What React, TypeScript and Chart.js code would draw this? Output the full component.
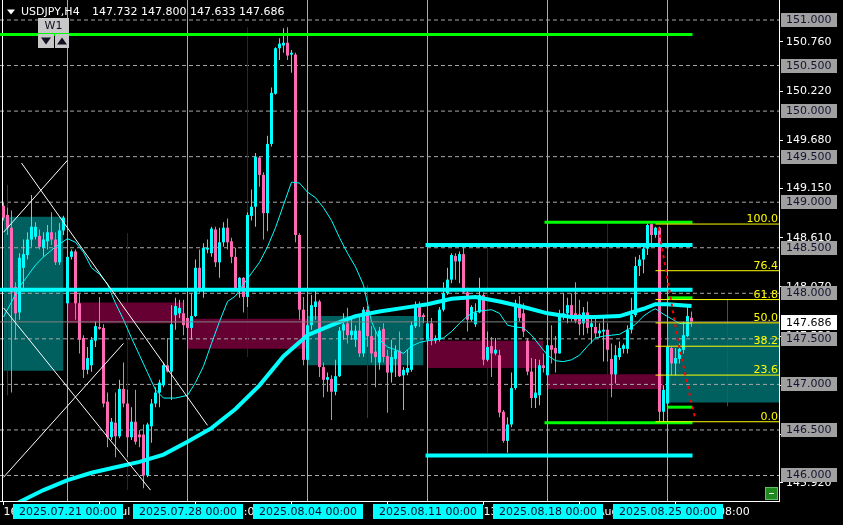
import React, { useEffect, useRef } from 'react';
import { Chart, registerables } from 'chart.js';

Chart.register(...registerables);

// ---------- data ----------
const FIRST_BAR = -16; // first candle, in H4 bars relative to 2025.07.21 00:00
const symbolTitle = 'USDJPY,H4';
const headerValues = '147.732 147.800 147.633 147.686';

const open = [
  148.96,148.86,148.72,148.07,147.79,148.28,148.42,148.59,148.62,148.63,148.50,148.57,148.67,148.59,148.34,148.69,
  147.89,148.40,148.46,147.89,147.51,147.16,147.21,147.48,147.63,147.62,146.81,146.42,146.58,146.43,146.95,146.79,146.42,146.59,146.45,146.45,146.00,146.54,146.79,146.91,146.99,147.21,147.14,147.76,147.78,147.78,
  147.73,147.62,147.75,148.28,148.05,148.48,148.44,148.70,148.34,148.56,148.72,148.57,148.40,148.06,148.17,147.96,148.85,148.95,149.49,149.30,148.88,149.64,150.19,150.69,150.72,150.75,150.62,150.62,148.64,147.82,
  147.27,147.65,147.85,147.91,147.19,147.05,147.06,146.92,147.09,147.59,147.67,147.54,147.49,147.59,147.34,147.82,147.53,147.36,147.24,147.61,147.31,147.13,147.28,147.37,147.10,147.13,147.16,147.64,147.85,147.76,
  147.49,147.67,147.48,147.49,147.82,148.00,148.15,148.41,148.35,148.43,148.01,147.71,147.66,147.79,147.98,147.27,147.42,147.34,147.32,146.70,146.38,146.56,146.96,147.88,147.78,147.48,147.14,146.85,146.88,147.21,
  147.10,147.43,147.40,147.34,147.74,147.78,147.87,147.78,147.77,147.67,147.79,147.63,147.63,147.56,147.58,147.60,147.28,147.11,147.30,147.39,147.39,147.60,147.76,148.30,148.37,148.49,148.76,148.64,148.72,146.70,
  146.79,147.40,147.23,147.28,147.38,147.53,147.732,
];
const high = [
  148.99,148.94,148.91,148.12,148.44,148.59,148.67,149.08,148.78,148.70,148.67,148.75,148.89,148.67,148.77,148.85,
  148.48,148.48,148.48,148.00,147.54,147.41,147.52,147.69,147.96,147.66,146.91,146.63,146.91,147.05,147.24,146.94,146.75,146.94,146.50,146.56,146.58,146.84,146.97,147.05,147.24,147.51,147.87,147.95,147.93,147.93,
  147.78,148.00,148.37,148.48,148.55,148.59,148.73,148.73,148.72,148.78,148.82,148.61,148.50,148.18,148.18,148.89,149.14,149.54,149.50,149.33,149.73,150.26,150.70,150.80,150.91,150.92,150.67,150.64,148.66,147.96,
  147.93,147.98,148.04,147.93,147.24,147.13,147.10,147.27,147.63,147.78,147.84,147.73,147.65,147.74,147.85,147.86,147.64,147.60,147.63,147.67,147.38,147.49,147.43,147.58,147.19,147.38,147.69,147.91,147.91,147.78,
  147.73,147.73,147.54,147.85,148.12,148.28,148.44,148.44,148.46,148.51,148.06,147.87,147.89,148.17,148.01,147.58,147.52,147.51,147.38,146.72,146.64,147.13,147.93,147.97,147.89,147.51,147.29,147.28,147.27,147.34,
  147.49,147.65,147.53,147.82,148.00,147.95,148.00,148.12,147.93,147.85,147.91,147.74,147.74,147.67,147.74,147.67,147.45,147.43,147.47,147.45,147.65,147.95,148.40,148.42,148.52,148.77,148.77,148.73,148.73,146.99,
  147.43,147.41,147.40,147.45,147.69,147.87,147.800,
];
const low = [
  148.80,148.64,146.91,147.49,147.71,148.04,148.37,148.51,148.59,148.48,148.40,148.48,148.53,148.31,148.31,148.64,
  147.82,148.37,147.71,147.34,147.07,147.11,147.14,147.41,147.60,146.75,146.31,146.39,146.20,146.41,146.75,146.20,146.39,146.34,146.31,145.86,145.98,146.36,146.75,146.75,146.97,147.13,146.83,147.60,147.73,147.54,
  147.60,147.49,147.74,148.01,147.95,148.44,148.40,148.29,148.17,148.51,148.48,148.33,148.04,147.95,147.79,147.85,148.80,148.73,149.17,148.59,148.68,149.61,150.18,150.56,150.64,150.56,150.42,148.56,147.71,147.21,
  147.21,147.60,147.71,147.08,146.86,146.92,146.61,146.88,147.08,147.49,147.45,147.49,147.41,147.30,147.30,147.41,147.24,146.97,147.16,147.24,146.69,147.02,147.08,147.08,146.72,147.10,147.14,147.62,147.63,147.67,
  147.43,147.43,147.45,147.47,147.80,147.98,148.11,148.15,148.11,148.00,147.58,147.69,147.63,147.78,147.21,147.25,147.08,147.32,146.64,146.36,146.25,146.53,146.94,147.69,147.52,147.10,146.74,146.74,146.77,147.13,
  147.08,147.23,147.13,147.34,147.71,147.67,147.69,147.67,147.54,147.54,147.56,147.45,147.51,147.51,147.25,147.25,146.86,147.01,147.27,147.34,147.34,147.56,147.74,148.19,148.22,148.42,148.51,148.61,146.59,146.59,
  146.77,147.10,147.10,147.23,147.34,147.52,147.633,
];
const close = [
  148.83,148.72,148.01,147.78,148.39,148.43,148.59,148.73,148.73,148.51,148.59,148.67,148.59,148.34,148.69,148.83,
  148.40,148.46,147.89,147.49,147.16,147.29,147.49,147.64,147.61,146.79,146.42,146.59,146.43,146.95,146.79,146.42,146.59,146.37,146.42,146.00,146.56,146.79,146.91,147.02,147.21,147.14,147.66,147.86,147.84,147.65,
  147.62,147.75,148.28,148.05,148.50,148.50,148.71,148.34,148.56,148.72,148.56,148.40,148.05,148.17,147.96,148.86,148.95,149.50,149.30,148.88,149.64,150.20,150.69,150.74,150.75,150.61,150.64,148.64,147.82,147.27,
  147.65,147.87,147.91,147.19,147.05,147.08,146.92,147.09,147.59,147.66,147.54,147.59,147.59,147.34,147.82,147.53,147.34,147.30,147.59,147.30,147.13,147.30,147.37,147.09,147.16,147.18,147.65,147.85,147.74,147.74,
  147.67,147.48,147.51,147.82,148.00,148.15,148.42,148.35,148.43,148.01,147.71,147.85,147.79,147.98,147.27,147.41,147.34,147.38,146.69,146.38,146.56,146.96,147.89,147.73,147.58,147.14,146.85,146.91,147.21,147.18,
  147.43,147.38,147.34,147.75,147.78,147.87,147.76,147.70,147.66,147.79,147.62,147.67,147.56,147.59,147.60,147.38,147.11,147.32,147.40,147.43,147.60,147.76,148.30,148.37,148.49,148.75,148.64,148.72,146.70,146.94,
  147.41,147.23,147.29,147.39,147.54,147.75,147.686,
];

// moving averages (bar index, price)
const slowMaX = [-16,-12,-6,0,6,12,18,24,30,36,42,48,54,60,66,72,78,84,90,96,102,108,114,120,126,132,138,144,147,150,156];
const slowMaY = [145.60,145.71,145.84,145.95,146.03,146.09,146.15,146.23,146.37,146.52,146.73,146.99,147.31,147.54,147.65,147.75,147.80,147.84,147.88,147.94,147.96,147.91,147.85,147.78,147.74,147.74,147.75,147.83,147.88,147.88,147.86];
const fastMaX = [-16,-12,-8,-6,-3,0,2,4,6,8,10,12,14,16,18,20,22,24,27,30,32,34,36,38,40,42,44,46,48,50,52,54,56,58,60,62,64,66,68,70,72,74,76,78,80,82,84,86,88,90,92,94,96,98,100,102,104,106,108,110,112,114,116,118,120,122,124,126,128,130,132,134,136,138,140,142,144,146,147,149,151,153,156];
const fastMaY = [147.74,148.07,148.31,148.40,148.51,148.60,148.56,148.45,148.28,148.21,148.10,147.89,147.71,147.51,147.32,147.13,146.94,146.85,146.85,146.88,147.02,147.20,147.45,147.69,147.91,147.97,148.10,148.22,148.34,148.51,148.72,148.97,149.22,149.21,149.11,149.05,148.94,148.80,148.61,148.44,148.29,148.09,147.69,147.49,147.41,147.38,147.34,147.42,147.46,147.48,147.49,147.51,147.58,147.67,147.75,147.80,147.81,147.82,147.78,147.65,147.63,147.62,147.54,147.43,147.32,147.26,147.25,147.27,147.32,147.42,147.51,147.53,147.54,147.55,147.60,147.66,147.75,147.81,147.83,147.77,147.72,147.67,147.67];

// time axis
const weekStarts = [0, 30, 60, 90, 120, 150];
const weekLabels = ['2025.07.21 00:00','2025.07.28 00:00','2025.08.04 00:00','2025.08.11 00:00','2025.08.18 00:00','2025.08.25 00:00'];
const timeTicks = [-16, 8, 32, 56, 80, 104, 128, 152];
const timeTickLabels = ['16 Jul 2025','22 Jul 08:00','28 Jul 08:00','1 Aug 08:00','7 Aug 08:00','13 Aug 08:00','19 Aug 08:00','25 Aug 08:00'];

// price axis
const priceTicks = [145.92, 146.45, 146.99, 147.53, 148.07, 148.61, 149.15, 149.68, 150.22, 150.76];
const levelPrices = [146.0, 146.5, 147.0, 147.5, 148.0, 148.5, 149.0, 149.5, 150.0, 150.5, 151.0];
const bidPrice = 147.686;

// weekly range markers (bar index, high, low, kind)
const rangeBars = [-15, 15, 45, 75, 105, 135, 165];
const rangeHigh = [149.19, 148.66, 150.92, 148.09, 148.51, 148.77, 147.94];
const rangeLow = [146.88, 145.84, 147.30, 146.63, 146.25, 146.59, 146.76];
const rangeKind = ['up', 'down', 'down', 'up', 'down', 'down', 'open'];

// zones: [fromBar, toBar, top, bottom]
const demandZones = [[-16, -1, 148.84, 147.15], [60, 89, 147.75, 147.21], [150, 178, 147.67, 146.80]];
const supplyZones = [[0, 29, 147.90, 147.67], [30, 60, 147.72, 147.39], [90, 119, 147.48, 147.18], [120, 149, 147.11, 146.95]];

// horizontal objects: [fromBar, toBar, price]
const cyanLevels = [[-17, 156.25, 148.04], [89.5, 156.25, 148.53], [89.5, 156.25, 146.22]];
const greenLevels = [[-17, 156.25, 150.84], [119.25, 156.25, 148.78], [119.25, 156.25, 146.58], [150, 156.25, 147.95], [150, 156.25, 146.75]];

// fibonacci
const fibHigh = 148.76;
const fibLow = 146.59;
const fibLevels = [0, 23.6, 38.2, 50, 61.8, 76.4, 100];
const fibFrom = 147;

// projection (red dotted)
const projX = [147.75, 150, 152.5, 155, 157];
const projY = [148.72, 148.15, 147.51, 146.99, 146.61];

// trend lines: [bar1, price1, bar2, price2]
const trendLines = [
  [-11.5, 149.43, 35, 146.55],
  [-16, 148.67, 0, 149.46],
  [-16, 147.84, 20.75, 145.84],
  [-16, 145.98, 14, 147.45],
];

// ---------- chart ----------
const X_MIN = -16.875;
const X_MAX = 177.875;
const Y_MAX = 151.2195;
const Y_MIN = 145.72;
const FONT = '11px "DejaVu Sans"';
const BULL = '#00ffff';
const BEAR = '#ff69b4';

function seg(pts: { x: number; y: number }[], color: string, width: number, order: number, dash: number[] = []) {
  return {
    type: 'line' as const,
    data: pts,
    borderColor: color,
    borderWidth: width,
    borderDash: dash,
    pointRadius: 0,
    fill: false,
    tension: 0,
    order,
    borderCapStyle: 'butt' as const,
  };
}

function zone(z: number[], color: string) {
  return {
    type: 'line' as const,
    data: [{ x: z[0], y: z[2] }, { x: z[1], y: z[2] }],
    borderWidth: 0,
    borderColor: 'rgba(0,0,0,0)',
    backgroundColor: color,
    fill: { value: z[3] },
    pointRadius: 0,
    order: 100,
  };
}

const overlay = {
  id: 'overlay',
  afterDraw(chart: any) {
    const { ctx, scales, chartArea } = chart;
    const xs = scales.x;
    const ys = scales.y;
    ctx.save();
    ctx.font = FONT;

    // fib labels
    ctx.fillStyle = '#ffff00';
    ctx.textAlign = 'right';
    ctx.textBaseline = 'alphabetic';
    fibLevels.forEach((l) => {
      const p = fibLow + ((fibHigh - fibLow) * l) / 100;
      ctx.fillText(l.toFixed(1), chartArea.right - 1, Math.round(ys.getPixelForValue(p)) - 2);
    });

    // header
    ctx.fillStyle = '#ffffff';
    ctx.beginPath();
    ctx.moveTo(7, 9.5);
    ctx.lineTo(15, 9.5);
    ctx.lineTo(11, 14.5);
    ctx.closePath();
    ctx.fill();
    ctx.textAlign = 'left';
    ctx.textBaseline = 'middle';
    ctx.fillText(symbolTitle, 21, 12.5);
    ctx.fillText(headerValues, 92, 12.5);

    // W1 button
    ctx.fillStyle = '#c8c8c8';
    ctx.fillRect(38, 18, 31, 15);
    ctx.fillRect(38, 34, 16, 14);
    ctx.fillRect(55, 34, 14, 14);
    ctx.fillStyle = '#101020';
    ctx.textAlign = 'center';
    ctx.fillText('W1', 53.5, 26);
    ctx.beginPath();
    ctx.moveTo(41, 37.5); ctx.lineTo(51, 37.5); ctx.lineTo(46, 44.5); ctx.closePath(); ctx.fill();
    ctx.beginPath();
    ctx.moveTo(57, 44.5); ctx.lineTo(67, 44.5); ctx.lineTo(62, 37.5); ctx.closePath(); ctx.fill();

    // level price boxes on the axis
    const bx = chartArea.right + 2;
    ctx.textAlign = 'left';
    levelPrices.forEach((p) => {
      const y = Math.round(ys.getPixelForValue(p));
      ctx.fillStyle = '#a0a0a0';
      ctx.fillRect(bx, y - 7, 56, 14);
      ctx.fillStyle = '#141430';
      ctx.fillText(p.toFixed(3), bx + 5, y + 0.5);
    });
    const by = Math.round(ys.getPixelForValue(bidPrice));
    ctx.fillStyle = '#ffffff';
    ctx.fillRect(bx, by - 7, 56, 15);
    ctx.fillStyle = '#000000';
    ctx.fillText(bidPrice.toFixed(3), bx + 5, by + 1);

    // week date boxes on the time axis
    ctx.textAlign = 'center';
    weekStarts.forEach((w, k) => {
      const cx = Math.round(xs.getPixelForValue(w));
      ctx.fillStyle = '#00ffff';
      ctx.fillRect(cx - 55, chartArea.bottom + 3, 110, 15);
      ctx.fillStyle = '#0a0a28';
      ctx.fillText(weekLabels[k], cx, chartArea.bottom + 11);
    });

    // minus button
    ctx.fillStyle = '#208a20';
    ctx.fillRect(chartArea.right - 14, chartArea.bottom - 14, 13, 13);
    ctx.strokeStyle = '#60c060';
    ctx.lineWidth = 1;
    ctx.strokeRect(chartArea.right - 13.5, chartArea.bottom - 13.5, 12, 12);
    ctx.fillStyle = '#ffffff';
    ctx.fillRect(chartArea.right - 10, chartArea.bottom - 8, 5, 1);

    ctx.restore();
  },
};

export default function App() {
  const ref = useRef<HTMLCanvasElement>(null);

  useEffect(() => {
    document.body.style.margin = '0';
    document.body.style.background = '#000';
    const canvas = ref.current;
    if (!canvas) return;

    const idx = open.map((_, k) => FIRST_BAR + k);
    const colors = open.map((o, k) => (close[k] >= o ? BULL : BEAR));

    const datasets: any[] = [];
    demandZones.forEach((z) => datasets.push(zone(z, '#005f5f')));
    supplyZones.forEach((z) => datasets.push(zone(z, '#660033')));

    levelPrices.forEach((p) => datasets.push(seg([{ x: X_MIN, y: p }, { x: X_MAX, y: p }], '#a8a8a8', 1, 90, [4, 3])));

    weekStarts.forEach((w) => datasets.push(seg([{ x: w, y: Y_MIN }, { x: w, y: Y_MAX }], '#00f0ff', 1, 85)));
    datasets.push(seg([{ x: -16.25, y: Y_MIN }, { x: -16.25, y: Y_MAX }], '#ffffff', 1, 85));

    rangeBars.forEach((b, k) => {
      const c = rangeKind[k] === 'up' ? '#0c4a44' : rangeKind[k] === 'down' ? '#5a0c30' : '#2c5858';
      datasets.push(seg([{ x: b, y: rangeLow[k] }, { x: b, y: rangeHigh[k] }], c, 1, 84));
    });

    datasets.push({
      type: 'bar',
      data: idx.map((i, k) => ({ x: i, y: [low[k], high[k]] })),
      backgroundColor: colors,
      barThickness: 1,
      grouped: false,
      inflateAmount: 0,
      borderWidth: 0,
      order: 50,
    });
    datasets.push({
      type: 'bar',
      data: idx.map((i, k) => ({ x: i, y: [open[k], close[k]] })),
      backgroundColor: colors,
      barThickness: 3,
      grouped: false,
      inflateAmount: 0,
      borderWidth: 0,
      minBarLength: 1,
      order: 49,
    });

    datasets.push(seg(slowMaX.map((x, k) => ({ x, y: slowMaY[k] })), '#00ffff', 4, 40));
    datasets.push(seg(fastMaX.map((x, k) => ({ x, y: fastMaY[k] })), '#00ffff', 1, 39));
    datasets.push(seg([{ x: X_MIN, y: bidPrice }, { x: X_MAX, y: bidPrice }], '#808080', 1, 38));

    cyanLevels.forEach((l) => datasets.push(seg([{ x: l[0], y: l[2] }, { x: l[1], y: l[2] }], '#00ffff', 4, 30)));
    greenLevels.forEach((l) => datasets.push(seg([{ x: l[0], y: l[2] }, { x: l[1], y: l[2] }], '#00ff00', 3, 29)));
    fibLevels.forEach((l) => {
      const p = fibLow + ((fibHigh - fibLow) * l) / 100;
      datasets.push(seg([{ x: fibFrom, y: p }, { x: X_MAX, y: p }], '#ffff00', 1, 28));
    });
    datasets.push(seg(projX.map((x, k) => ({ x, y: projY[k] })), '#ff0000', 2, 27, [3, 4]));
    trendLines.forEach((t) => datasets.push(seg([{ x: t[0], y: t[1] }, { x: t[2], y: t[3] }], '#ffffff', 1, 26)));

    const noPad = (s: any) => {
      s.paddingTop = 0;
      s.paddingBottom = 0;
      s.paddingLeft = 0;
      s.paddingRight = 0;
    };

    const chart = new Chart(canvas, {
      type: 'bar',
      data: { datasets },
      options: {
        responsive: false,
        animation: false,
        devicePixelRatio: 1,
        events: [],
        layout: { padding: 0 },
        plugins: { legend: { display: false }, tooltip: { enabled: false }, title: { display: false } },
        scales: {
          x: {
            type: 'linear',
            position: 'bottom',
            min: X_MIN,
            max: X_MAX,
            offset: false,
            afterBuildTicks: (s: any) => {
              s.ticks = timeTicks.map((v) => ({ value: v }));
            },
            afterFit: (s: any) => {
              s.height = 24;
              noPad(s);
            },
            ticks: {
              color: '#ffffff',
              align: 'start',
              padding: 1,
              maxRotation: 0,
              autoSkip: false,
              font: { family: 'DejaVu Sans', size: 11 },
              callback: (_v: any, i: number) => timeTickLabels[i],
            },
            grid: { drawOnChartArea: false, drawTicks: true, tickLength: 4, color: '#ffffff', offset: false },
            border: { color: '#ffffff', width: 1 },
          },
          y: {
            type: 'linear',
            position: 'right',
            min: Y_MIN,
            max: Y_MAX,
            afterBuildTicks: (s: any) => {
              s.ticks = priceTicks.map((v) => ({ value: v }));
            },
            afterFit: (s: any) => {
              s.width = 64;
              noPad(s);
            },
            ticks: {
              color: '#ffffff',
              padding: 3,
              autoSkip: false,
              font: { family: 'DejaVu Sans', size: 11 },
              callback: (v: any) => Number(v).toFixed(3),
            },
            grid: { drawOnChartArea: false, drawTicks: true, tickLength: 4, color: '#ffffff' },
            border: { color: '#ffffff', width: 1 },
          },
        },
      },
      plugins: [overlay],
    } as any);

    return () => chart.destroy();
  }, []);

  return (
    <div style={{ width: 843, height: 525, background: '#000' }}>
      <canvas ref={ref} width={843} height={525} style={{ display: 'block' }} />
    </div>
  );
}
